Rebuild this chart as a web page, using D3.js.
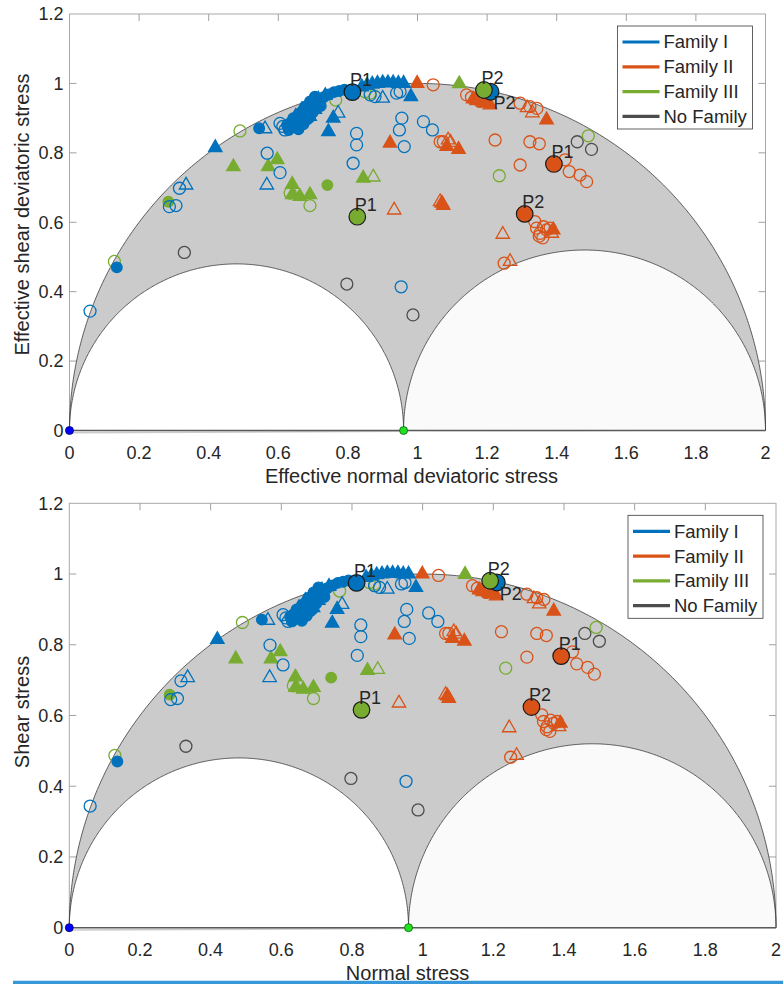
<!DOCTYPE html>
<html><head><meta charset="utf-8">
<script src="https://cdn.jsdelivr.net/npm/d3@7"></script>
<style>
body{margin:0;background:#fff}
svg{display:block}
text{font-family:"Liberation Sans",Arial,Helvetica,sans-serif;fill:#262626}
</style>
</head><body>
<svg id="chart" width="783" height="984"></svg>
<script>
// ---------------- data ----------------
const xTicks = [0,0.2,0.4,0.6,0.8,1,1.2,1.4,1.6,1.8,2];
const xTickLabels = ["0","0.2","0.4","0.6","0.8","1","1.2","1.4","1.6","1.8","2"];
const yTicks = [0,0.2,0.4,0.6,0.8,1,1.2];
const yTickLabels = ["0","0.2","0.4","0.6","0.8","1","1.2"];

const families = ["Family I","Family II","Family III","No Family"];
const familyColors = ["#0072BD","#D95319","#77AC30","#4D4D4D"];

// Mohr circles: [centre, radius]
const outerCircle = [1, 1];
const innerCircleLeft = [0.48, 0.48];
const innerCircleRight = [1.48, 0.52];
// principal stress points on the axis
const sigmaPoints = [[0,0],[0.96,0]];

// Family I (blue)
const famI_filledCircles = [[0.545,0.871],[0.136,0.470],[0.625,0.880],[0.634,0.886],[0.643,0.900],[0.652,0.893],[0.662,0.914],[0.662,0.880],[0.672,0.905],[0.677,0.933],[0.682,0.895],[0.691,0.948],[0.696,0.914],[0.705,0.962],[0.710,0.929],[0.720,0.950],[0.730,0.960],[0.745,0.968],[0.760,0.975],[0.775,0.978],[0.790,0.982],[0.800,0.978],[0.630,0.866],[0.645,0.875],[0.658,0.868],[0.672,0.882],[0.688,0.900],[0.700,0.918],[0.722,0.935]];
const famI_filledTriangles = [[0.419,0.815],[0.758,0.900],[0.744,0.861],[0.981,0.962],[0.650,0.905],[0.668,0.925],[0.688,0.935],[0.700,0.945],[0.715,0.955],[0.735,0.965],[0.840,0.990],[0.855,0.995],[0.870,0.998],[0.885,1.000],[0.900,1.002],[0.915,1.002],[0.930,1.002],[0.945,1.000],[0.960,1.000],[0.690,0.905],[0.705,0.925],[0.678,0.912],[0.715,0.940]];
const famI_openCircles = [[0.059,0.344],[0.287,0.645],[0.306,0.648],[0.316,0.698],[0.605,0.885],[0.613,0.876],[0.619,0.866],[0.568,0.799],[0.605,0.743],[0.825,0.856],[0.825,0.823],[0.815,0.770],[0.955,0.900],[0.948,0.866],[0.962,0.818],[1.017,0.890],[1.043,0.866],[0.864,0.967],[0.878,0.962],[0.940,0.972],[0.950,0.976],[0.953,0.414]];
const famI_openTriangles = [[0.562,0.869],[0.567,0.707],[0.335,0.707],[0.772,0.914],[0.900,0.957]];

// Family II (orange)
const famII_filledTriangles = [[0.999,1.000],[0.921,0.828],[1.084,0.818],[1.118,0.810],[1.070,0.655],[1.074,0.648],[1.371,0.895],[1.208,0.938],[1.170,0.950],[1.190,0.945],[1.390,0.578],[1.160,0.955]];
const famII_openCircles = [[1.045,0.996],[1.141,0.967],[1.155,0.960],[1.180,0.948],[1.295,0.943],[1.323,0.933],[1.343,0.928],[1.065,0.832],[1.074,0.832],[1.223,0.837],[1.323,0.832],[1.350,0.826],[1.295,0.765],[1.424,0.780],[1.436,0.746],[1.467,0.736],[1.486,0.717],[1.337,0.602],[1.342,0.583],[1.352,0.568],[1.362,0.587],[1.371,0.578],[1.381,0.583],[1.350,0.560],[1.360,0.555],[1.249,0.482]];
const famII_openTriangles = [[1.088,0.837],[1.095,0.830],[1.315,0.930],[1.330,0.915],[1.245,0.565],[1.266,0.487],[1.386,0.568],[0.933,0.635],[1.065,0.659],[1.200,0.945]];

// Family III (green)
const famIII_openCircles = [[0.490,0.863],[0.129,0.487],[0.634,0.684],[0.691,0.648],[0.765,0.952],[0.849,0.976],[0.864,0.972],[1.235,0.734],[1.491,0.849]];
const famIII_filledTriangles = [[0.471,0.760],[0.571,0.760],[0.597,0.780],[0.640,0.709],[0.640,0.679],[0.662,0.674],[0.691,0.679],[0.844,0.727],[1.120,0.999]];
const famIII_openTriangles = [[0.873,0.730]];
const famIII_filledCircles = [[0.284,0.659],[0.741,0.707]];

// No family (gray)
const noFam_openCircles = [[0.330,0.513],[0.797,0.422],[0.987,0.333],[1.459,0.832],[1.500,0.810]];

// Labelled principal points
const pNames = ["P1","P2","P1","P2","P1","P2"];
const pFamily = [0,0,1,1,2,2];
const pX = [0.813,1.210,1.392,1.308,0.827,1.191];
const pY = [0.975,0.976,0.768,0.624,0.616,0.981];

// panels
const panelXTitles = ["Effective normal deviatoric stress","Normal stress"];
const panelYTitles = ["Effective shear deviatoric stress","Shear stress"];

// --------------- drawing ---------------
const svg = d3.select("#chart");

const series = [
  {fam:3, shape:"circle", filled:false, pts:noFam_openCircles},
  {fam:1, shape:"circle", filled:false, pts:famII_openCircles},
  {fam:1, shape:"triangle", filled:false, pts:famII_openTriangles},
  {fam:1, shape:"triangle", filled:true, pts:famII_filledTriangles},
  {fam:2, shape:"circle", filled:false, pts:famIII_openCircles},
  {fam:2, shape:"triangle", filled:false, pts:famIII_openTriangles},
  {fam:2, shape:"triangle", filled:true, pts:famIII_filledTriangles},
  {fam:2, shape:"circle", filled:true, pts:famIII_filledCircles},
  {fam:0, shape:"circle", filled:false, pts:famI_openCircles},
  {fam:0, shape:"triangle", filled:false, pts:famI_openTriangles},
  {fam:0, shape:"triangle", filled:true, pts:famI_filledTriangles},
  {fam:0, shape:"circle", filled:true, pts:famI_filledCircles}
];

const panels = [
  {left:69.5, right:765.5, bottom:430.5, top:14, xTitleX:411.5, yTitleY:214.5},
  {left:69.3, right:776, bottom:927.7, top:503.3, xTitleX:407.5, yTitleY:712}
];

panels.forEach((p, pi) => {
  const g = svg.append("g");
  const x = d3.scaleLinear().domain([0,2]).range([p.left,p.right]);
  const y = d3.scaleLinear().domain([0,1.2]).range([p.bottom,p.top]);

  // box
  g.append("rect").attr("x",p.left).attr("y",p.top)
    .attr("width",p.right-p.left).attr("height",p.bottom-p.top)
    .attr("fill","none").attr("stroke","#a8a8a8").attr("stroke-width",1);
  // ticks (top, left, right)
  xTicks.slice(1,-1).forEach(t=>{
    g.append("line").attr("x1",x(t)).attr("x2",x(t)).attr("y1",p.top).attr("y2",p.top+7)
      .attr("stroke","#a0a0a0");
  });
  yTicks.slice(1,-1).forEach(t=>{
    g.append("line").attr("x1",p.left).attr("x2",p.left+7).attr("y1",y(t)).attr("y2",y(t)).attr("stroke","#a0a0a0");
    g.append("line").attr("x1",p.right).attr("x2",p.right-7).attr("y1",y(t)).attr("y2",y(t)).attr("stroke","#a0a0a0");
  });

  const arcPts = (c) => d3.range(0,181,0.5).map(a=>[c[0]+c[1]*Math.cos(a*Math.PI/180), c[1]*Math.sin(a*Math.PI/180)]);
  const line = d3.line().x(d=>x(d[0])).y(d=>y(d[1]));

  g.append("path").attr("d", line(arcPts(outerCircle))+"Z").attr("fill","#cbcbcb").attr("stroke","none");
  g.append("path").attr("d", line(arcPts(innerCircleLeft))+"Z").attr("fill","#ffffff").attr("stroke","none");
  g.append("path").attr("d", line(arcPts(innerCircleRight))+"Z").attr("fill","#fafafa").attr("stroke","none");
  [outerCircle, innerCircleLeft, innerCircleRight].forEach(c=>{
    g.append("path").attr("d", line(arcPts(c))).attr("fill","none").attr("stroke","#3a3a3a").attr("stroke-width",0.8);
  });
  // baseline
  g.append("line").attr("x1",x(0)).attr("x2",x(2)).attr("y1",y(0)).attr("y2",y(0))
    .attr("stroke","#5a5a5a").attr("stroke-width",1.5);

  // tick labels
  xTicks.forEach((t,i)=>{
    g.append("text").attr("x",x(t)).attr("y",p.bottom+28).attr("text-anchor","middle")
      .attr("font-size",18).text(xTickLabels[i]);
  });
  yTicks.forEach((t,i)=>{
    g.append("text").attr("x",p.left-6).attr("y",y(t)).attr("dy","0.35em").attr("text-anchor","end")
      .attr("font-size",18).text(yTickLabels[i]);
  });
  g.append("text").attr("x",p.xTitleX).attr("y",p.bottom+52.5).attr("text-anchor","middle")
    .attr("font-size",20).text(panelXTitles[pi]);
  g.append("text").attr("transform",`translate(29,${p.yTitleY}) rotate(-90)`).attr("text-anchor","middle")
    .attr("font-size",20).text(panelYTitles[pi]);

  // data
  const tri = d3.symbol().type(d3.symbolTriangle).size(78);
  series.forEach(s=>{
    const col = familyColors[s.fam];
    s.pts.forEach(d=>{
      if (s.shape==="circle"){
        g.append("circle").attr("cx",x(d[0])).attr("cy",y(d[1])).attr("r", s.filled?5.3:6)
          .attr("fill", s.filled?col:"none").attr("stroke",col).attr("stroke-width",1.3);
      } else {
        g.append("path").attr("d",tri()).attr("transform",`translate(${x(d[0])},${y(d[1])})`)
          .attr("fill", s.filled?col:"none").attr("stroke",col).attr("stroke-width",1.3);
      }
    });
  });

  // sigma points
  g.append("circle").attr("cx",x(sigmaPoints[0][0])).attr("cy",y(sigmaPoints[0][1])).attr("r",4)
    .attr("fill","#0000ff").attr("stroke","#000066").attr("stroke-width",0.8);
  g.append("circle").attr("cx",x(sigmaPoints[1][0])).attr("cy",y(sigmaPoints[1][1])).attr("r",4)
    .attr("fill","#22e022").attr("stroke","#106010").attr("stroke-width",0.8);

  // P points
  const order = [0,2,3,4,1,5];
  order.forEach(i=>{
    g.append("circle").attr("cx",x(pX[i])).attr("cy",y(pY[i])).attr("r",8.3)
      .attr("fill",familyColors[pFamily[i]]).attr("stroke","#1a1a1a").attr("stroke-width",1.2);
  });
  order.forEach(i=>{
    const below = (i===1);
    g.append("text").attr("x",x(pX[i]) + (below?3:-2.5)).attr("y",y(pY[i]) + (below?17:-6))
      .attr("font-size",18).attr("fill","#111").text(pNames[i]);
  });

  // legend
  const lw = 135, lh = 103;
  const lx = p.right - 13 - lw, ly = p.top + 12;
  const lg = g.append("g");
  lg.append("rect").attr("x",lx).attr("y",ly).attr("width",lw).attr("height",lh)
    .attr("fill","#fff").attr("stroke","#3a3a3a").attr("stroke-width",0.8);
  families.forEach((f,i)=>{
    const yy = ly + 16 + i*24.8;
    lg.append("line").attr("x1",lx+5).attr("x2",lx+42).attr("y1",yy).attr("y2",yy)
      .attr("stroke",familyColors[i]).attr("stroke-width",3.2);
    lg.append("text").attr("x",lx+46).attr("y",yy).attr("dy","0.35em").attr("font-size",18.5)
      .attr("fill","#111").text(f);
  });
});

// bottom separator line
svg.append("line").attr("x1",13).attr("x2",783).attr("y1",982.5).attr("y2",982.5)
  .attr("stroke","#3797d8").attr("stroke-width",3.5);
</script>
</body></html>
